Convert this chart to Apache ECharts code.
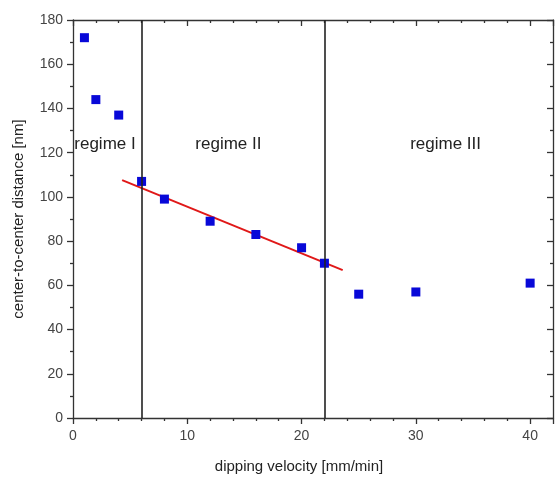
<!DOCTYPE html>
<html>
<head>
<meta charset="utf-8">
<script src="https://cdn.jsdelivr.net/npm/echarts@6/dist/echarts.min.js"></script>
<style>html,body{margin:0;padding:0;background:#fff}#c{width:556px;height:479px}</style>
</head>
<body>
<div id="c"></div>
<script>
// Data
const velocity = [1, 2, 4, 6, 8, 12, 16, 20, 22, 25, 30, 40];
const distance = [172, 144, 137, 107, 99, 89, 83, 77, 70, 56, 57, 61];
const fitLine = [[4.3, 107.6], [23.6, 66.9]];
const regimeBounds = [6, 22];
const regimeLabels = ['regime I', 'regime II', 'regime III'];
const regimeLabelPos = [[2.8, 124], [13.6, 124], [32.6, 124]];
const xTicks = { min: 0, max: 42, interval: 10 };
const yTicks = { min: 0, max: 180, interval: 20 };

const font = 'Liberation Sans, Arial, sans-serif';
const chart = echarts.init(document.getElementById('c'), null, { renderer: 'canvas' });

const axisLine = { show: true, onZero: false, lineStyle: { color: '#333', width: 1.3 } };
const tickStyle = { color: '#333', width: 1.3 };

chart.setOption({
  animation: false,
  backgroundColor: '#fff',
  grid: { left: 73, right: 3, top: 20, bottom: 61, containLabel: false },
  xAxis: [
    {
      type: 'value', position: 'bottom', min: xTicks.min, max: xTicks.max, interval: xTicks.interval,
      axisLine: axisLine,
      axisTick: { show: true, inside: false, length: 6, lineStyle: tickStyle },
      minorTick: { show: true, splitNumber: 5, length: 3, lineStyle: tickStyle },
      splitLine: { show: false },
      axisLabel: { color: '#444', fontFamily: font, fontSize: 14, margin: 11, showMaxLabel: false },
      name: 'dipping velocity [mm/min]', nameLocation: 'middle', nameGap: 41,
      nameTextStyle: { color: '#222', fontFamily: font, fontSize: 15, padding: [0, 28, 0, 0] }
    },
    {
      type: 'value', position: 'top', min: xTicks.min, max: xTicks.max, interval: xTicks.interval,
      axisLine: axisLine,
      axisTick: { show: true, inside: true, length: 6, lineStyle: tickStyle },
      minorTick: { show: true, splitNumber: 5, length: 3, lineStyle: tickStyle },
      splitLine: { show: false },
      axisLabel: { show: false }
    }
  ],
  yAxis: [
    {
      type: 'value', position: 'left', min: yTicks.min, max: yTicks.max, interval: yTicks.interval,
      axisLine: axisLine,
      axisTick: { show: true, inside: false, length: 6, lineStyle: tickStyle },
      minorTick: { show: true, splitNumber: 2, length: 3, lineStyle: tickStyle },
      splitLine: { show: false },
      axisLabel: { color: '#444', fontFamily: font, fontSize: 14, margin: 10 },
      name: 'center-to-center distance [nm]', nameLocation: 'middle', nameGap: 47,
      nameTextStyle: { color: '#222', fontFamily: font, fontSize: 15 }
    },
    {
      type: 'value', position: 'right', min: yTicks.min, max: yTicks.max, interval: yTicks.interval,
      axisLine: axisLine,
      axisTick: { show: true, inside: true, length: 6, lineStyle: tickStyle },
      minorTick: { show: true, splitNumber: 2, length: 3, lineStyle: tickStyle },
      splitLine: { show: false },
      axisLabel: { show: false }
    }
  ],
  series: [
    {
      type: 'line',
      data: fitLine,
      symbol: 'none',
      lineStyle: { color: '#e01818', width: 2 },
      z: 3,
      markLine: {
        silent: true,
        symbol: ['none', 'none'],
        label: { show: false },
        lineStyle: { color: '#222', width: 1.6, type: 'solid' },
        data: regimeBounds.map(v => ({ xAxis: v }))
      },
      markPoint: {
        silent: true,
        symbol: 'rect',
        symbolSize: 0,
        label: {
          show: true, position: 'inside', color: '#222', fontFamily: font, fontSize: 17,
          formatter: p => p.name
        },
        data: regimeLabels.map((t, i) => ({ name: t, coord: regimeLabelPos[i] }))
      }
    },
    {
      type: 'scatter',
      data: velocity.map((v, i) => [v, distance[i]]),
      symbol: 'rect',
      symbolSize: 9,
      itemStyle: { color: '#0808d8', opacity: 1 },
      z: 4
    }
  ]
});
</script>
</body>
</html>
